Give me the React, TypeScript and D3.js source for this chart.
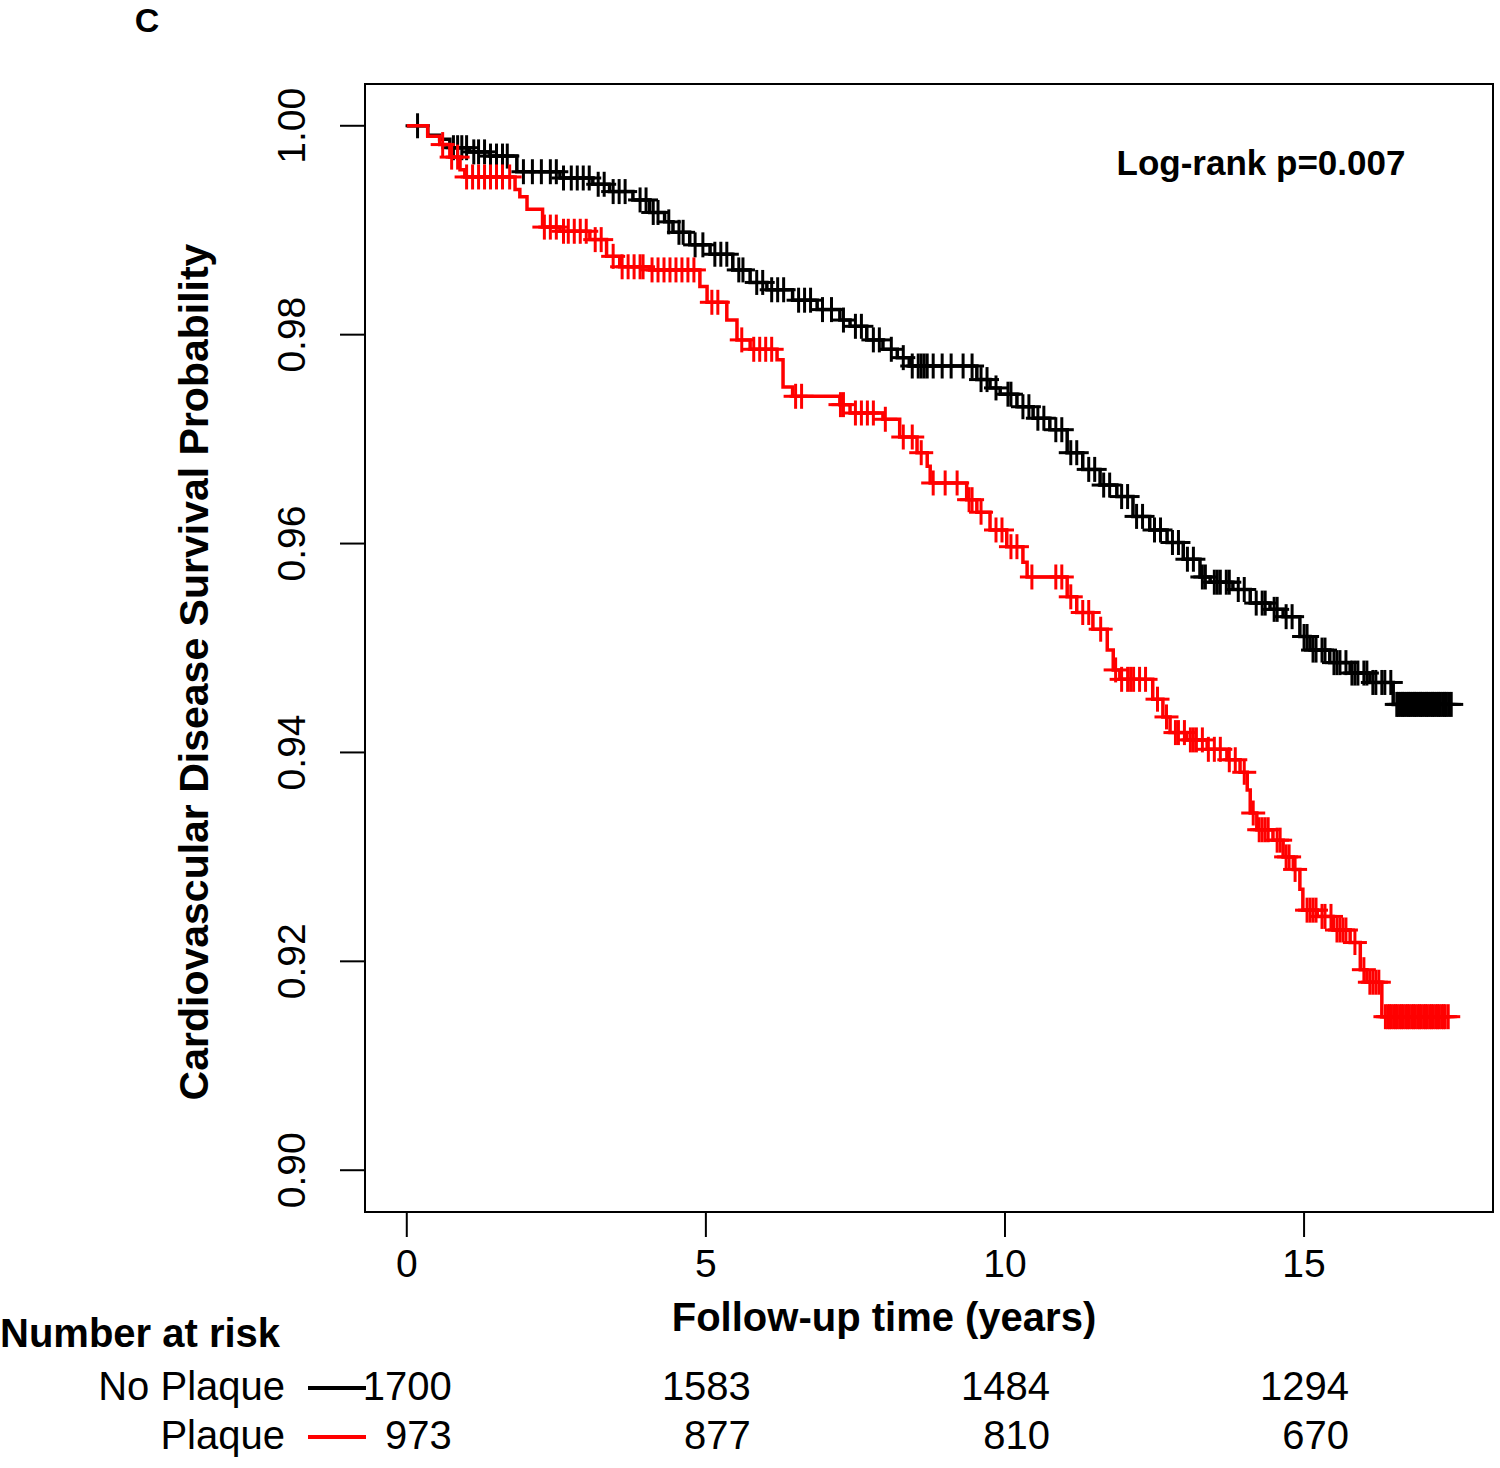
import React, { useEffect, useRef } from "react";
import * as d3 from "d3";

// ---- Data ----
const xTicks = [0, 5, 10, 15];
const yTicks = [0.9, 0.92, 0.94, 0.96, 0.98, 1.0];
const yTickLabels = ["0.90", "0.92", "0.94", "0.96", "0.98", "1.00"];

const groups = ["No Plaque", "Plaque"];
const groupColors = ["#000000", "#ff0000"];

// Kaplan-Meier steps: [time, survival after drop]
const noPlaqueSteps: [number, number][] = [
  [0, 1.0], [0.35, 0.9991], [0.55, 0.9987], [0.72, 0.9979], [1.05, 0.9975], [1.39, 0.9971],
  [1.84, 0.9956], [2.56, 0.995], [3.11, 0.9944], [3.39, 0.9937], [3.78, 0.9929], [4.06, 0.9917],
  [4.31, 0.9908], [4.45, 0.9898], [4.73, 0.9886], [5.07, 0.9877], [5.45, 0.9862], [5.74, 0.985],
  [6.02, 0.9843], [6.45, 0.9833], [6.86, 0.9824], [7.24, 0.9814], [7.41, 0.9808], [7.69, 0.9795],
  [7.96, 0.9786], [8.2, 0.9778], [8.4, 0.977], [9.53, 0.9757], [9.75, 0.9749], [9.92, 0.9743],
  [10.2, 0.9731], [10.47, 0.972], [10.75, 0.9709], [11.04, 0.9687], [11.3, 0.9671], [11.59, 0.9656],
  [11.87, 0.9645], [12.14, 0.9626], [12.42, 0.9613], [12.71, 0.9601], [12.98, 0.9585], [13.26, 0.9568],
  [13.43, 0.9563], [13.81, 0.9556], [14.1, 0.9543], [14.43, 0.9537], [14.65, 0.953], [14.93, 0.9511],
  [15.1, 0.9498], [15.43, 0.9486], [15.77, 0.9476], [16.1, 0.9467], [16.49, 0.9446], [17.46, 0.9446],
];
const plaqueSteps: [number, number][] = [
  [0, 1.0], [0.35, 0.999], [0.55, 0.9982], [0.72, 0.997], [0.89, 0.9958], [0.97, 0.9951],
  [1.81, 0.9939], [1.89, 0.9932], [2.01, 0.992], [2.27, 0.9903], [2.56, 0.9899], [3.06, 0.9891],
  [3.34, 0.9875], [3.56, 0.9865], [4.06, 0.9862], [4.9, 0.9846], [5.02, 0.9831], [5.35, 0.9814],
  [5.52, 0.9795], [5.74, 0.9786], [6.19, 0.9776], [6.29, 0.975], [6.45, 0.9741], [7.24, 0.9733],
  [7.41, 0.9725], [7.96, 0.9719], [8.24, 0.9702], [8.53, 0.9687], [8.7, 0.9674], [8.75, 0.9658],
  [9.36, 0.9642], [9.53, 0.963], [9.75, 0.9613], [10.03, 0.9597], [10.3, 0.9582], [10.37, 0.9568],
  [11.04, 0.9549], [11.2, 0.9534], [11.47, 0.9518], [11.71, 0.9498], [11.81, 0.9479], [11.92, 0.947],
  [12.47, 0.9451], [12.64, 0.9434], [12.76, 0.9419], [13.04, 0.9412], [13.38, 0.9403], [13.71, 0.9393],
  [13.93, 0.9381], [14.05, 0.9364], [14.1, 0.9342], [14.21, 0.9326], [14.48, 0.9316], [14.65, 0.93],
  [14.82, 0.9288], [14.93, 0.9269], [14.98, 0.9249], [15.22, 0.9243], [15.49, 0.923], [15.77, 0.9218],
  [15.94, 0.9192], [16.05, 0.918], [16.3, 0.9147], [17.41, 0.9147],
];

// Censoring times
const noPlaqueCensor = [
  0.18, 0.78, 0.85, 0.92, 1.0, 1.12, 1.2, 1.3, 1.4, 1.5, 1.6, 1.68, 1.95, 2.1, 2.25, 2.4, 2.5, 2.62,
  2.75, 2.85, 2.95, 3.05, 3.2, 3.3, 3.45, 3.55, 3.65, 3.9, 4.0, 4.12, 4.2, 4.38, 4.55, 4.62, 4.82,
  4.95, 5.15, 5.25, 5.35, 5.55, 5.62, 5.85, 5.95, 6.1, 6.2, 6.3, 6.55, 6.65, 6.75, 6.95, 7.1, 7.3,
  7.5, 7.6, 7.8, 7.9, 8.1, 8.3, 8.45, 8.55, 8.6, 8.65, 8.7, 8.8, 8.95, 9.1, 9.3, 9.45, 9.6, 9.7,
  9.85, 10.05, 10.1, 10.3, 10.4, 10.55, 10.65, 10.85, 10.95, 11.1, 11.2, 11.4, 11.5, 11.65, 11.75,
  11.95, 12.05, 12.2, 12.3, 12.5, 12.6, 12.8, 12.9, 13.05, 13.15, 13.3, 13.35, 13.5, 13.55, 13.6,
  13.7, 13.75, 13.9, 14.0, 14.2, 14.3, 14.35, 14.5, 14.55, 14.7, 14.8, 15.0, 15.05, 15.15, 15.2,
  15.3, 15.35, 15.5, 15.55, 15.6, 15.7, 15.8, 15.85, 15.9, 16.0, 16.05, 16.15, 16.2, 16.3, 16.35,
  16.45, 16.55, 16.58, 16.62, 16.65, 16.68, 16.72, 16.75, 16.78, 16.82, 16.85, 16.88, 16.92, 16.95,
  16.98, 17.02, 17.05, 17.08, 17.12, 17.15, 17.18, 17.22, 17.25, 17.28, 17.32, 17.35, 17.38, 17.42,
  17.46,
];
const plaqueCensor = [
  0.6, 0.75, 0.85, 1.0, 1.1, 1.2, 1.3, 1.4, 1.5, 1.6, 1.72, 2.3, 2.4, 2.5, 2.62, 2.7, 2.8, 2.9, 3.0,
  3.15, 3.25, 3.45, 3.6, 3.7, 3.8, 3.9, 3.95, 4.1, 4.2, 4.3, 4.4, 4.5, 4.6, 4.7, 4.8, 5.1, 5.2, 5.6,
  5.8, 5.9, 6.0, 6.1, 6.5, 6.6, 7.25, 7.3, 7.5, 7.6, 7.7, 7.8, 8.0, 8.3, 8.45, 8.6, 8.8, 9.0, 9.2,
  9.4, 9.45, 9.6, 9.85, 9.95, 10.1, 10.2, 10.45, 10.85, 10.95, 11.1, 11.3, 11.4, 11.6, 11.85, 11.95,
  12.05, 12.1, 12.15, 12.25, 12.35, 12.55, 12.7, 12.85, 12.9, 13.0, 13.1, 13.15, 13.2, 13.3, 13.4,
  13.5, 13.6, 13.75, 13.85, 14.0, 14.15, 14.25, 14.3, 14.35, 14.4, 14.55, 14.6, 14.7, 14.75, 14.85,
  15.05, 15.1, 15.15, 15.2, 15.3, 15.35, 15.45, 15.55, 15.6, 15.65, 15.7, 15.85, 16.0, 16.1, 16.15,
  16.2, 16.25, 16.36, 16.4, 16.43, 16.46, 16.5, 16.53, 16.56, 16.6, 16.63, 16.66, 16.7, 16.73,
  16.76, 16.8, 16.83, 16.86, 16.9, 16.93, 16.96, 17.0, 17.03, 17.06, 17.1, 17.13, 17.16, 17.2,
  17.23, 17.26, 17.3, 17.33, 17.36, 17.41,
];

const riskTimes = [0, 5, 10, 15];
const noPlaqueRisk = [1700, 1583, 1484, 1294];
const plaqueRisk = [973, 877, 810, 670];

const pValueText = "Log-rank p=0.007";

const FONT = "'Liberation Sans', Arial, Helvetica, sans-serif";

export default function App() {
  const ref = useRef<SVGSVGElement>(null);

  useEffect(() => {
    const svg = d3.select(ref.current);
    svg.selectAll("*").remove();

    const x = d3.scaleLinear().domain([-0.6984, 18.1584]).range([365, 1493]);
    const y = d3.scaleLinear().domain([0.896, 1.004]).range([1212, 84]);

    // Panel letter
    svg.append("text").attr("x", 147).attr("y", 32).attr("text-anchor", "middle")
      .attr("font-family", FONT).attr("font-weight", "bold").attr("font-size", 34).text("C");

    // Box
    svg.append("rect").attr("x", 365).attr("y", 84).attr("width", 1128).attr("height", 1128)
      .attr("fill", "none").attr("stroke", "#000").attr("stroke-width", 2);

    // Y axis ticks
    const gy = svg.append("g");
    yTicks.forEach((t, i) => {
      gy.append("line").attr("x1", 340).attr("x2", 365).attr("y1", y(t)).attr("y2", y(t))
        .attr("stroke", "#000").attr("stroke-width", 2);
      gy.append("text").attr("transform", `translate(305,${y(t)}) rotate(-90)`)
        .attr("text-anchor", "middle").attr("font-family", FONT).attr("font-size", 39)
        .text(yTickLabels[i]);
    });

    // X axis ticks
    const gx = svg.append("g");
    xTicks.forEach((t) => {
      gx.append("line").attr("x1", x(t)).attr("x2", x(t)).attr("y1", 1212).attr("y2", 1237)
        .attr("stroke", "#000").attr("stroke-width", 2);
      gx.append("text").attr("x", x(t)).attr("y", 1277).attr("text-anchor", "middle")
        .attr("font-family", FONT).attr("font-size", 39).text(String(t));
    });

    // Axis titles
    svg.append("text").attr("transform", `translate(208,672) rotate(-90)`)
      .attr("text-anchor", "middle").attr("font-family", FONT).attr("font-weight", "bold")
      .attr("font-size", 41).text("Cardiovascular Disease Survival Probability");
    svg.append("text").attr("x", 884).attr("y", 1331).attr("text-anchor", "middle")
      .attr("font-family", FONT).attr("font-weight", "bold").attr("font-size", 40)
      .text("Follow-up time (years)");

    // p-value
    svg.append("text").attr("x", 1261).attr("y", 175).attr("text-anchor", "middle")
      .attr("font-family", FONT).attr("font-weight", "bold").attr("font-size", 35)
      .text(pValueText);

    // Curves
    const line = d3.line<[number, number]>().x((d) => x(d[0])).y((d) => y(d[1]))
      .curve(d3.curveStepAfter);

    const stepValue = (steps: [number, number][], t: number) => {
      let v = steps[0][1];
      for (const s of steps) if (s[0] <= t) v = s[1];
      return v;
    };

    const drawGroup = (steps: [number, number][], censor: number[], color: string) => {
      const g = svg.append("g");
      g.append("path").attr("d", line(steps) as string).attr("fill", "none")
        .attr("stroke", color).attr("stroke-width", 3.5);
      censor.forEach((t) => {
        const cx = x(t);
        const cy = y(stepValue(steps, t));
        g.append("line").attr("x1", cx - 12).attr("x2", cx + 12).attr("y1", cy).attr("y2", cy)
          .attr("stroke", color).attr("stroke-width", 3);
        g.append("line").attr("x1", cx).attr("x2", cx).attr("y1", cy - 12.5).attr("y2", cy + 12.5)
          .attr("stroke", color).attr("stroke-width", 3);
      });
    };
    drawGroup(noPlaqueSteps, noPlaqueCensor, groupColors[0]);
    drawGroup(plaqueSteps, plaqueCensor, groupColors[1]);

    // Number at risk table
    svg.append("text").attr("x", 0).attr("y", 1347).attr("font-family", FONT)
      .attr("font-weight", "bold").attr("font-size", 40).text("Number at risk");
    const rows = [noPlaqueRisk, plaqueRisk];
    const rowY = [1400, 1449];
    rows.forEach((vals, r) => {
      svg.append("text").attr("x", 285).attr("y", rowY[r]).attr("text-anchor", "end")
        .attr("font-family", FONT).attr("font-size", 40).text(groups[r]);
      svg.append("line").attr("x1", 308).attr("x2", 366).attr("y1", rowY[r] - 12)
        .attr("y2", rowY[r] - 12).attr("stroke", groupColors[r]).attr("stroke-width", 4);
      vals.forEach((v, i) => {
        svg.append("text").attr("x", x(riskTimes[i]) + 45).attr("y", rowY[r])
          .attr("text-anchor", "end").attr("font-family", FONT).attr("font-size", 40)
          .text(String(v));
      });
    });
  }, []);

  return (
    <svg ref={ref} width={1500} height={1468}
      style={{ position: "absolute", left: 0, top: 0, background: "#fff" }} />
  );
}
